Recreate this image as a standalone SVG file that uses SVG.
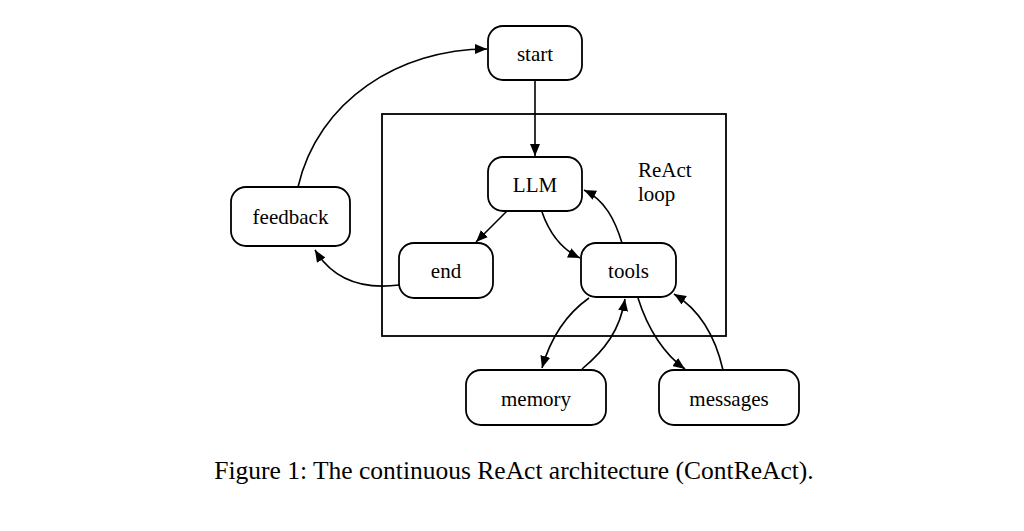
<svg xmlns="http://www.w3.org/2000/svg" width="1024" height="531" viewBox="0 0 1024 531">
<style>
.node rect{fill:#fff;stroke:#000;stroke-width:1.8}
text{font-family:"Liberation Serif","Times New Roman",serif;fill:#000}
.lbl{font-size:21px;text-anchor:middle}
.edge path{fill:none;stroke:#000;stroke-width:1.6}
</style>
<defs>
<marker id="ah" viewBox="0 0 12 10" refX="12" refY="5" markerWidth="12" markerHeight="10" markerUnits="userSpaceOnUse" orient="auto">
<path d="M0,0 L12,5 L0,10 z" fill="#000"/>
</marker>
</defs>
<rect id="react-loop" x="382" y="114" width="344" height="222" fill="none" stroke="#000" stroke-width="1.8"/>
<text x="638" y="177" font-size="21">ReAct</text>
<text x="638" y="201" font-size="21">loop</text>
<g class="edge">
<path d="M535,80 L535,156" marker-end="url(#ah)"/>
<path d="M298,187 C318,100 400,49 487,49" marker-end="url(#ah)"/>
<path d="M399,285 C360,290 332,278 315,250" marker-end="url(#ah)"/>
<path d="M507,211 L476,242" marker-end="url(#ah)"/>
<path d="M542,212 C550,235 563,250 580,258" marker-end="url(#ah)"/>
<path d="M622,243 C615,220 605,200 584,190" marker-end="url(#ah)"/>
<path d="M589,298 C565,315 550,340 542,368" marker-end="url(#ah)"/>
<path d="M582,369 C605,350 620,330 625,299" marker-end="url(#ah)"/>
<path d="M638,298 C648,330 665,355 685,369" marker-end="url(#ah)"/>
<path d="M723,370 C715,335 700,310 674,294" marker-end="url(#ah)"/>
</g>
<g id="start" class="node"><rect x="488" y="26" width="94" height="54" rx="15"/><text class="lbl" x="535" y="61">start</text></g>
<g id="llm" class="node"><rect x="488" y="157" width="94" height="54" rx="15"/><text class="lbl" x="535" y="192">LLM</text></g>
<g id="feedback" class="node"><rect x="231" y="187" width="119" height="59" rx="15"/><text class="lbl" x="290.5" y="224">feedback</text></g>
<g id="end" class="node"><rect x="399" y="243" width="94" height="55" rx="15"/><text class="lbl" x="446" y="278">end</text></g>
<g id="tools" class="node"><rect x="581" y="243" width="95" height="54" rx="15"/><text class="lbl" x="628.5" y="278">tools</text></g>
<g id="memory" class="node"><rect x="466" y="370" width="140" height="55" rx="15"/><text class="lbl" x="536" y="406">memory</text></g>
<g id="messages" class="node"><rect x="659" y="370" width="140" height="55" rx="15"/><text class="lbl" x="729" y="406">messages</text></g>
<text x="514" y="479" font-size="25.5" text-anchor="middle">Figure 1: The continuous ReAct architecture (ContReAct).</text>
</svg>
